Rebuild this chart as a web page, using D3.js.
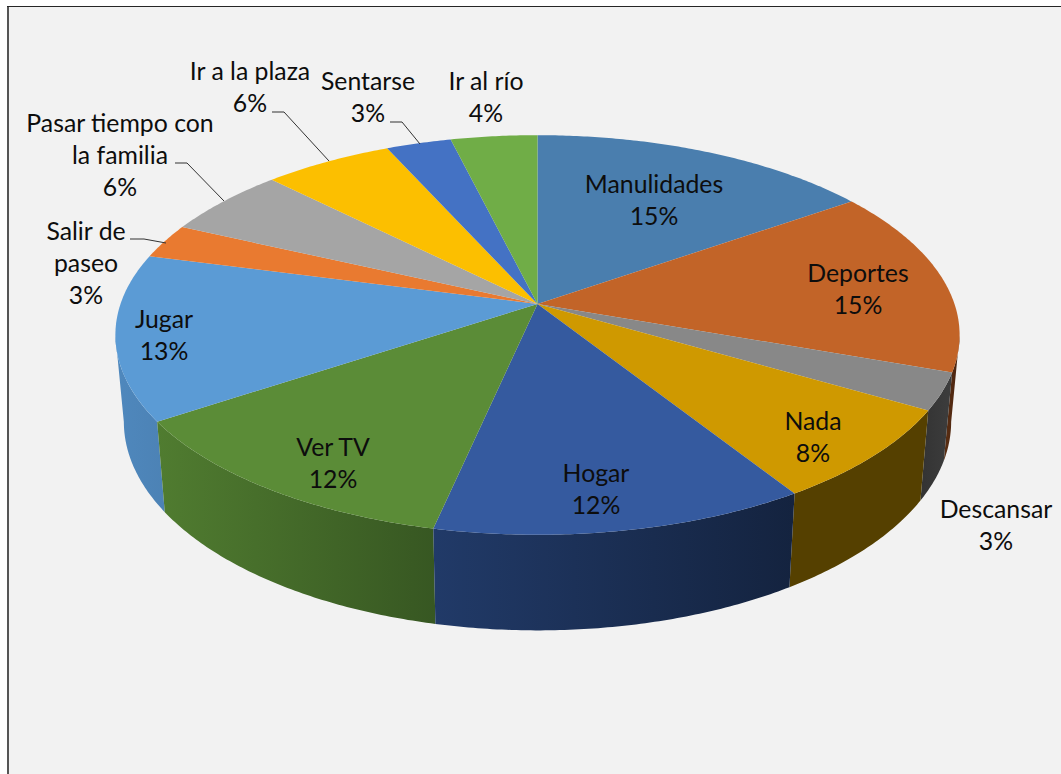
<!DOCTYPE html>
<html><head><meta charset="utf-8">
<script src="https://cdn.jsdelivr.net/npm/d3@7/dist/d3.min.js"></script>
<style>html,body{margin:0;padding:0;background:#fff}svg{display:block}text{font-family:Lato,Carlito,sans-serif;font-size:24.8px;fill:#0d0d0d;text-anchor:middle}</style>
</head><body><svg id="c" width="1061" height="774"></svg>
<script>
const categories=["Manulidades","Deportes","Descansar","Nada","Hogar","Ver TV","Jugar","Salir de paseo","Pasar tiempo con la familia","Ir a la plaza","Sentarse","Ir al río"];
const values=[15.3,15.1,3.0,7.6,12.4,12.3,13.4,2.8,5.6,5.75,2.9,3.85];
const percentLabels=["15%","15%","3%","8%","12%","12%","13%","3%","6%","6%","3%","4%"];
const labelLines=[["Manulidades"],["Deportes"],["Descansar"],["Nada"],["Hogar"],["Ver TV"],["Jugar"],["Salir de","paseo"],["Pasar tiempo con","la familia"],["Ir a la plaza"],["Sentarse"],["Ir al río"]];
const topColors=["#4a7eae","#c26428","#888888","#cf9900","#355a9f","#5b8c37","#5b9bd5","#e97a30","#a5a5a5","#fcbf00","#4472c4","#70ad47"];
const wallStart=["#000","#5a2e12","#333333","#554000","#213a68","#507c30","#4f88bd","#000","#000","#000","#000","#000"];
const wallEnd=["#000","#4a2410","#3d3d3d","#554000","#14233f","#375722","#4c82b5","#000","#000","#000","#000","#000"];
const labelAnchors=[[654,193],[858,282],[996,518],[813,430],[596,482],[333,456],[164,328],[86,240],[120,132],[250,80],[368,90],[486,90]];
const leaders=[null,null,null,null,null,null,null,
 [[130,239],[144,239],[166,243]],[[175,163],[187,163],[224,201]],[[272,112],[284,112],[329,161]],[[390,122],[402,122],[420,144]],null];

const svg=d3.select("#c");
svg.append("rect").attr("x",8).attr("y",6.5).attr("width",1060).attr("height",780).attr("fill","#f2f2f2");
svg.append("rect").attr("x",7).attr("y",6).attr("width",2).attr("height",768).attr("fill","#555");
svg.append("rect").attr("x",7).attr("y",6).attr("width",1054).attr("height",1).attr("fill","#262626");

const cx=537.5,cy=304,A=417,B=195,W=0.155;
const project=t=>{const u=Math.sin(t),v=Math.cos(t),d=1+W*v;return [cx+A*u/d,cy-B*v/d];};
const lower=p=>[cx+(p[0]-cx)*0.98,p[1]+90+(p[1]-410)*0.045];
const samples=(a,b)=>{const n=Math.max(2,Math.ceil(Math.abs(b-a)/0.01));return d3.range(n+1).map(i=>a+(b-a)*i/n);};
const line=d3.line();
const arcs=d3.pie().sort(null).value(d=>d)(values);
const defs=svg.append("defs");
const visA=99*Math.PI/180,visB=261*Math.PI/180;
const walls=svg.append("g"), tops=svg.append("g");
const order=[1,2,3,6,5,4];
order.forEach(i=>{
  const a=Math.max(arcs[i].startAngle,visA),b=Math.min(arcs[i].endAngle,visB);
  if(b<=a)return;
  const ts=samples(a,b),up=ts.map(project),lo=up.map(lower);
  const xs=up.concat(lo).map(p=>p[0]);
  const id="w"+i;
  const g=defs.append("linearGradient").attr("id",id).attr("gradientUnits","userSpaceOnUse")
    .attr("x1",d3.min(xs)).attr("x2",d3.max(xs)).attr("y1",0).attr("y2",0);
  g.append("stop").attr("offset",0).attr("stop-color",wallStart[i]);
  g.append("stop").attr("offset",1).attr("stop-color",wallEnd[i]);
  walls.append("path").attr("d",line(up.concat(lo.reverse()))+"Z").attr("fill",`url(#${id})`);
});
arcs.forEach((d,i)=>{
  const pts=[[cx,cy]].concat(samples(d.startAngle,d.endAngle).map(project));
  tops.append("path").attr("d",line(pts)+"Z").attr("fill",topColors[i]);
});
leaders.forEach(l=>{ if(l) svg.append("path").attr("d",line(l)).attr("fill","none").attr("stroke","#333").attr("stroke-width",1);});
categories.forEach((c,i)=>{
  const rows=labelLines[i].concat([percentLabels[i]]);
  rows.forEach((r,j)=>svg.append("text").attr("x",labelAnchors[i][0]).attr("y",labelAnchors[i][1]+j*32).text(r));
});
</script></body></html>
